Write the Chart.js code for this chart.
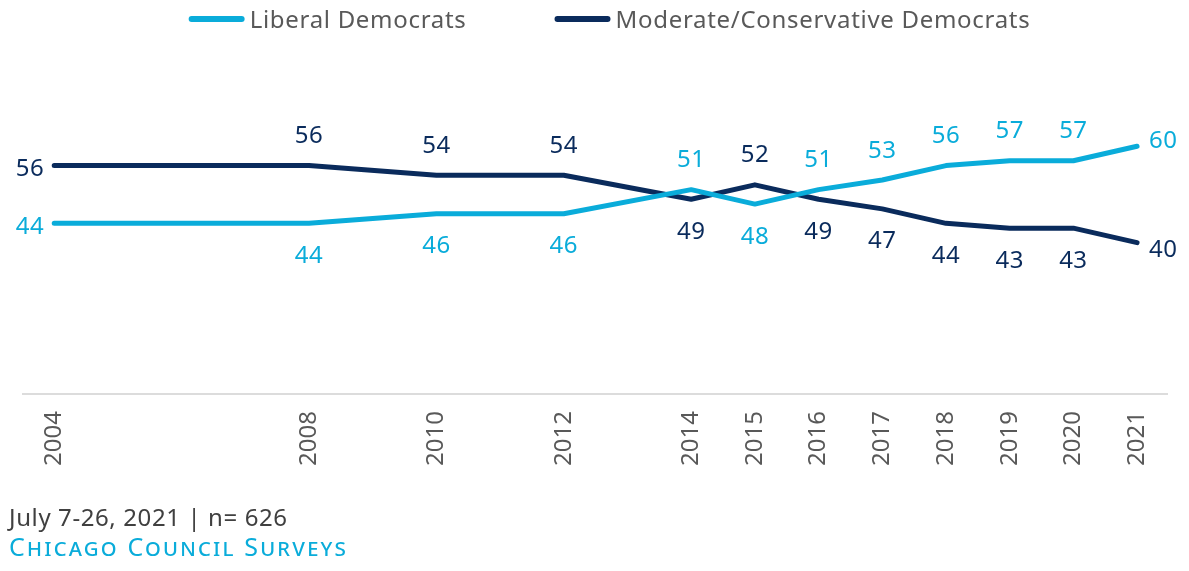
<!DOCTYPE html>
<html>
<head>
<meta charset="utf-8">
<script src="https://cdn.jsdelivr.net/npm/chart.js@4/dist/chart.umd.min.js"></script>
<style>
  body { margin: 0; background: #fff; }
  #wrap { position: relative; width: 1189px; height: 571px; }
  .note { position: absolute; left: 9px; font-family: 'Noto Sans', sans-serif; white-space: nowrap; }
  #source { top: 500px; font-size: 24px; letter-spacing: 0.6px; color: #404040; }
  #brand { top: 529px; font-size: 25px; letter-spacing: 2.2px; color: #0aacda; font-variant: small-caps; }
</style>
</head>
<body>
<div id="wrap">
  <canvas id="trend"></canvas>
  <div class="note" id="source">July 7-26, 2021 | n= 626</div>
  <div class="note" id="brand">Chicago Council Surveys</div>
</div>
<script>
// survey years (uneven spacing, so the x axis is linear)
const years = [2004, 2008, 2010, 2012, 2014, 2015, 2016, 2017, 2018, 2019, 2020, 2021];
// share identifying as each group, %
const liberal = [44, 44, 46, 46, 51, 48, 51, 53, 56, 57, 57, 60];
const moderate = [56, 56, 54, 54, 49, 52, 49, 47, 44, 43, 43, 40];

const LIGHT_BLUE = '#0aacda';
const NAVY = '#0a2b5c';
const FONT = '"Noto Sans", sans-serif';

// value labels: ends go outside the line, others go on the side away from the other series
const pointLabels = {
  id: 'pointLabels',
  afterDatasetsDraw(chart) {
    const { ctx } = chart;
    const sets = chart.data.datasets;
    ctx.save();
    ctx.font = '24px ' + FONT;
    ctx.letterSpacing = '0.5px';
    ctx.textBaseline = 'alphabetic';
    sets.forEach((ds, di) => {
      const other = sets[1 - di];
      const pts = chart.getDatasetMeta(di).data;
      pts.forEach((pt, i) => {
        const v = ds.data[i].y;
        const high = v > other.data[i].y;
        let x = pt.x, y = pt.y;
        if (i === 0) {
          ctx.textAlign = 'right'; x -= 10; y += 2;
        } else if (i === pts.length - 1) {
          ctx.textAlign = 'left'; x += 12; y += high ? -7 : 6;
        } else {
          ctx.textAlign = 'center'; y += high ? -31 : 31;
        }
        ctx.fillStyle = ds.borderColor;
        ctx.fillText(String(v), x, y + 8.5);
      });
    });
    ctx.restore();
  }
};

// legend with rounded line markers across the top
const lineLegend = {
  id: 'lineLegend',
  afterDraw(chart) {
    const { ctx } = chart;
    ctx.save();
    ctx.font = '24px ' + FONT;
    ctx.letterSpacing = '0.7px';
    const items = chart.data.datasets.map(ds => ({ ds, w: 61 + ctx.measureText(ds.label).width }));
    const gap = 88;
    const total = items.reduce((s, it) => s + it.w, 0) + gap * (items.length - 1);
    let x = chart.width / 2 + 15 - total / 2;
    const y = 19;
    items.forEach(it => {
      ctx.beginPath();
      ctx.lineWidth = 6;
      ctx.lineCap = 'round';
      ctx.strokeStyle = it.ds.borderColor;
      ctx.moveTo(x + 3, y);
      ctx.lineTo(x + 53, y);
      ctx.stroke();
      ctx.fillStyle = '#595959';
      ctx.textAlign = 'left';
      ctx.textBaseline = 'alphabetic';
      ctx.fillText(it.ds.label, x + 61, y + 8.5);
      x += it.w + gap;
    });
    ctx.restore();
  }
};

const lineStyle = {
  borderWidth: 5,
  pointRadius: 0,
  pointHoverRadius: 0,
  tension: 0,
  borderCapStyle: 'round',
  borderJoinStyle: 'round'
};

new Chart(document.getElementById('trend'), {
  type: 'line',
  data: {
    datasets: [
      { label: 'Liberal Democrats', data: years.map((x, i) => ({ x, y: liberal[i] })), borderColor: LIGHT_BLUE, ...lineStyle },
      { label: 'Moderate/Conservative Democrats', data: years.map((x, i) => ({ x, y: moderate[i] })), borderColor: NAVY, ...lineStyle }
    ]
  },
  options: {
    responsive: true,
    maintainAspectRatio: false,
    animation: false,
    events: [],
    layout: { padding: { top: 41, left: 23, right: 22, bottom: 88 } },
    plugins: { legend: { display: false }, tooltip: { enabled: false } },
    scales: {
      x: {
        type: 'linear',
        min: 2003.51,
        max: 2021.47,
        afterBuildTicks: axis => { axis.ticks = years.map(v => ({ value: v })); },
        grid: { display: false, drawTicks: false },
        border: { display: true, color: '#dcdcdc', width: 2 },
        ticks: {
          autoSkip: false,
          minRotation: 90,
          maxRotation: 90,
          padding: 17,
          color: '#595959',
          font: { family: FONT, size: 24 },
          callback: v => String(v)
        }
      },
      y: {
        display: false,
        min: 8.54,
        max: 81.87
      }
    }
  },
  plugins: [pointLabels, lineLegend]
});
</script>
</body>
</html>
